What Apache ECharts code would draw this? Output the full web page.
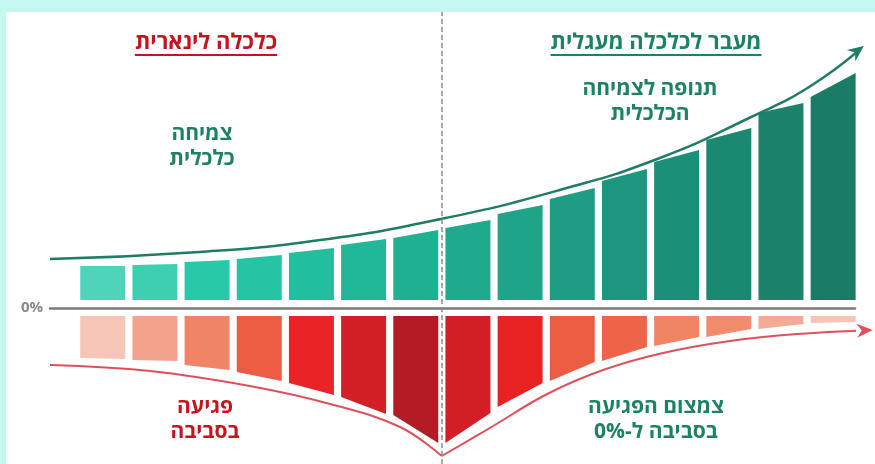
<!DOCTYPE html>
<html lang="he">
<head>
<meta charset="utf-8">
<title>כלכלה לינארית ומעגלית</title>
<script src="https://cdn.jsdelivr.net/npm/echarts@6/dist/echarts.min.js"></script>
<style>
  html, body { margin: 0; padding: 0; background: #c3f7ef; }
  #chart { width: 875px; height: 464px; }
</style>
</head>
<body>
<div id="chart"></div>
<script>
// Growth (above 0%) and environmental impact (below 0%) per step.
// Each bar has a value at its left edge and at its right edge.
const steps = [1, 2, 3, 4, 5, 6, 7, 8, 9, 10, 11, 12, 13, 14, 15];
const growthStart = [42, 43, 46, 49, 55, 63, 70, 80, 94, 109, 127, 146, 168, 195, 211];
const growthEnd   = [42, 44, 48, 53, 60, 69, 78, 88, 103, 120, 139, 158, 180, 205, 235];
const impactStart = [-50, -52, -57, -64, -75, -89, -107, -135, -99, -73, -53, -38, -29, -21, -15];
const impactEnd   = [-51, -53, -62, -73, -87, -106, -135, -105, -75, -54, -39, -29, -21, -16, -14];

// Growth trend curve (position along the steps, value)
const growthCurveX = [-0.58, 2.29, 4.6, 6.91, 9.19, 11.11, 12.86, 14.0, 15.02];
const growthCurveY = [49, 56, 68, 89, 118, 150, 191, 222, 262];

// Impact curve: rises to the transition point, then falls back towards 0%
const impactCurveX = [-0.58, 1.34, 3.25, 4.79, 6.13, 6.93, 7.85, 8.95, 10.02, 11.17, 12.45, 13.74, 15.19];
const impactCurveY = [-57, -63, -78, -96, -119, -148, -120, -86, -62, -45, -33, -26, -22];

// Boundary between the linear phase and the circular phase
const dividerAt = 6.93;

const zeroLabel = '0%';
const titleLinear = 'כלכלה לינארית';
const titleCircular = 'מעבר לכלכלה מעגלית';
const noteGrowthLinear = 'צמיחה\nכלכלית';
const noteGrowthCircular = 'תנופה לצמיחה\nהכלכלית';
const noteImpactLinear = 'פגיעה\nבסביבה';
const noteImpactCircular = 'צמצום הפגיעה\nבסביבה ל-0%';

const greenShades = ['#4fd3b9', '#3ecfb1', '#27c9a9', '#24c4a5', '#22be9f', '#21b899', '#20b093',
  '#1fa98d', '#1fa389', '#1e9d84', '#1d967f', '#1c8f79', '#1b8872', '#1b826c', '#1a7c66'];
const redShades = ['#f7c5b7', '#f3a38c', '#f08466', '#ec5c43', '#e92326', '#d41f26', '#b31c24',
  '#d31e26', '#e82123', '#ec5c43', '#ee6448', '#f08463', '#f08b6c', '#f4ab95', '#f7c4b7'];

const FONT = '"Open Sans", "DejaVu Sans", sans-serif';
const BAR_FRAC = 0.862;   // share of each step occupied by its bar
const BASE_GAP = 8;       // px between bars and the 0% line

const chart = echarts.init(document.getElementById('chart'), null, { renderer: 'canvas' });

function barRenderer(colors, sign) {
  return function (params, api) {
    const i = params.dataIndex;
    const x = api.value(0);
    const base = api.coord([x, 0])[1] + sign * BASE_GAP;
    const pL = api.coord([x, api.value(1)]);
    const pR = api.coord([x + BAR_FRAC, api.value(2)]);
    return {
      type: 'polygon',
      shape: { points: [[pL[0], base], pL, pR, [pR[0], base]] },
      style: { fill: colors[i] }
    };
  };
}

function arrowRenderer(xs, ys, color) {
  return function (params, api) {
    const n = xs.length;
    const tip = api.coord([xs[n - 1], ys[n - 1]]);
    const prev = api.coord([xs[n - 2], ys[n - 2]]);
    const ang = Math.atan2(tip[1] - prev[1], tip[0] - prev[0]);
    const len = 16, half = 7, notch = 5;
    const c = Math.cos(ang), s = Math.sin(ang);
    const pt = (a, b) => [tip[0] + a * c - b * s, tip[1] + a * s + b * c];
    return {
      type: 'polygon',
      shape: { points: [pt(0, 0), pt(-len, -half), pt(-len + notch, 0), pt(-len, half)] },
      style: { fill: color }
    };
  };
}

const pairs = (xs, ys) => xs.map((x, k) => [x, ys[k]]);
const vertex = impactCurveY.indexOf(Math.min(...impactCurveY));

// Underline width follows the measured title text
const measureCtx = document.createElement('canvas').getContext('2d');
function textWidth(txt, size) {
  measureCtx.font = 'bold ' + size + 'px ' + FONT;
  return measureCtx.measureText(txt).width;
}

function title(txt, cx, cy, color) {
  const size = 22;
  const w = textWidth(txt, size);
  return {
    type: 'group',
    z: 100,
    children: [
      { type: 'text', x: cx, y: cy,
        style: { text: txt, fill: color, font: 'bold ' + size + 'px ' + FONT, align: 'center', verticalAlign: 'middle' } },
      { type: 'line', shape: { x1: cx - w / 2, y1: cy + 12, x2: cx + w / 2, y2: cy + 12 },
        style: { stroke: color, lineWidth: 2 } }
    ]
  };
}

function note(txt, cx, cy, color) {
  return {
    type: 'text', x: cx, y: cy, z: 100,
    style: { text: txt, fill: color, font: 'bold 21px ' + FONT, lineHeight: 25,
      align: 'center', verticalAlign: 'middle' }
  };
}

chart.setOption({
  backgroundColor: '#c3f7ef',
  animation: false,
  grid: { left: 50, right: 20, top: 12, bottom: 0 },
  xAxis: {
    type: 'value', min: -0.58, max: 14.85,
    axisLine: { show: true, onZero: true, lineStyle: { color: '#7b7b7b', width: 2.5 } },
    axisTick: { show: false }, axisLabel: { show: false }, splitLine: { show: false }
  },
  yAxis: {
    type: 'value', min: -156, max: 296,
    axisLine: { show: false }, axisTick: { show: false }, splitLine: { show: false },
    axisLabel: {
      customValues: [0],
      formatter: v => (v === 0 ? zeroLabel : ''),
      color: '#8a8a8a', fontWeight: 'bold', fontSize: 15, fontFamily: FONT, margin: 7
    }
  },
  graphic: [
    { type: 'rect', z: -10, shape: { x: 6, y: 12, width: 869, height: 452 }, style: { fill: '#ffffff' } },
    title(titleLinear, 206, 43, '#c4141e'),
    title(titleCircular, 656, 43, '#1b8264'),
    note(noteGrowthLinear, 202, 147, '#1b8264'),
    note(noteGrowthCircular, 650, 102, '#1b8264'),
    note(noteImpactLinear, 205, 420, '#c4141e'),
    note(noteImpactCircular, 656, 420, '#1b8264')
  ],
  series: [
    {
      type: 'custom', name: 'growth',
      renderItem: barRenderer(greenShades, -1),
      data: steps.map((s, i) => [i, growthStart[i], growthEnd[i]]),
      encode: { x: 0, y: [1, 2] }
    },
    {
      type: 'custom', name: 'impact',
      renderItem: barRenderer(redShades, 1),
      data: steps.map((s, i) => [i, impactStart[i], impactEnd[i]]),
      encode: { x: 0, y: [1, 2] }
    },
    {
      type: 'line', name: 'growth trend', smooth: 0.5, symbol: 'none', clip: false,
      lineStyle: { color: '#1e7d64', width: 2.5 },
      data: pairs(growthCurveX, growthCurveY),
      markLine: {
        silent: true, symbol: 'none', label: { show: false },
        lineStyle: { color: '#8c8c8c', type: [5, 3], width: 1.5 },
        data: [{ xAxis: dividerAt }]
      }
    },
    {
      type: 'line', name: 'impact rising', smooth: 0.4, symbol: 'none', clip: false,
      lineStyle: { color: '#e0505a', width: 2 },
      data: pairs(impactCurveX.slice(0, vertex + 1), impactCurveY.slice(0, vertex + 1))
    },
    {
      type: 'line', name: 'impact falling', smooth: 0.4, symbol: 'none', clip: false,
      lineStyle: { color: '#e0505a', width: 2 },
      data: pairs(impactCurveX.slice(vertex), impactCurveY.slice(vertex))
    },
    {
      type: 'custom', name: 'growth arrow', clip: false,
      renderItem: arrowRenderer(growthCurveX, growthCurveY, '#1e7d64'),
      data: [[growthCurveX[growthCurveX.length - 1], growthCurveY[growthCurveY.length - 1]]]
    },
    {
      type: 'custom', name: 'impact arrow', clip: false,
      renderItem: arrowRenderer(impactCurveX, impactCurveY, '#e0505a'),
      data: [[impactCurveX[impactCurveX.length - 1], impactCurveY[impactCurveY.length - 1]]]
    }
  ]
});
</script>
</body>
</html>
